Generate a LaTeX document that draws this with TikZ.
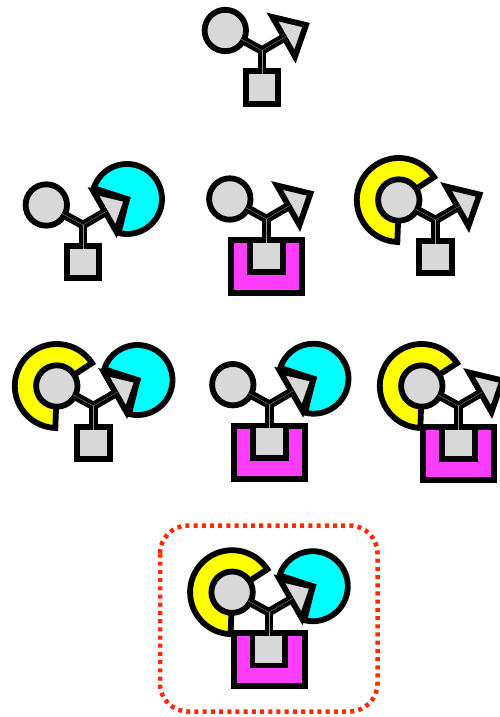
\documentclass[tikz,border=0pt]{standalone}
\usepackage{xcolor}
\usepackage{tikz}
\usetikzlibrary{positioning,calc}
\definecolor{core}{HTML}{D8D8D8}
\definecolor{pink}{HTML}{FF3DFF}
\definecolor{aqua}{HTML}{00FFFF}
\definecolor{sun}{HTML}{FFFF00}
\definecolor{frameRed}{HTML}{FF2A00}
\tikzset{
  part/.style={draw=black, line width=5.8pt, miter limit=10},
  headdot/.style={part, circle, fill=core, minimum size=41.4pt, inner sep=0pt, outer sep=-2.9pt},
  cargo/.style={part, rectangle, fill=core, minimum size=32.5pt, inner sep=0pt, outer sep=-2.9pt},
  legbar/.style={draw=black, line width=8.5pt},
  legline/.style={draw=core!70!black, line width=0.35pt},
  fragment/.pic={
    \coordinate (-hub) at (0,0);
    \coordinate (-barb) at (24,14);
    \node[headdot] (-head) at (-36.7,20) {};
    \node[cargo] (-box) at (0,-37) {};
    \draw[legbar] (-head) -- (-hub) -- (-barb);
    \draw[legbar] (-hub) -- (-box);
    \draw[part, fill=core] (10.5,33.5) -- (44,25.5) -- (33,-6) -- cycle;
    \draw[legline] (-head) -- (-hub) -- (-barb);
    \draw[legline] (-hub) -- (-box);
  },
  yellowarc/.pic={
    \draw[part, fill=sun] (-36.7,20) -- +(33:42) arc[start angle=33, end angle=268, radius=42] -- cycle;
  },
  cyanarc/.pic={
    \draw[part, fill=aqua] (44,26) -- +(256:35) arc[start angle=256, end angle=522, radius=35] -- cycle;
  },
  pinktray/.pic={
    \draw[part, fill=pink] (-35.2,-21) rectangle (35.8,-74);
  },
}
\begin{document}
\begin{tikzpicture}[x=1pt, y=1pt]
  \useasboundingbox (0,0) rectangle (500,-717);
  % top
  \pic (t) at (262,-50.5) {fragment};
  % second row
  \pic at (83,-225) {cyanarc};
  \pic (a) at (83,-225) {fragment};
  \pic at (266.5,-219) {pinktray};
  \pic (b) at (266.5,-219) {fragment};
  \pic at (435.5,-220) {yellowarc};
  \pic (c) at (435.5,-220) {fragment};
  % third row
  \pic at (93.5,-406) {yellowarc};
  \pic at (93.5,-406) {cyanarc};
  \pic (d) at (93.5,-406) {fragment};
  \pic at (269.5,-404.7) {cyanarc};
  \pic at (269.5,-404.7) {pinktray};
  \pic (e) at (269.5,-404.7) {fragment};
  \pic at (458.5,-406) {yellowarc};
  \pic at (458.5,-406) {pinktray};
  \pic (f) at (458.5,-406) {fragment};
  % all three
  \pic at (268.8,-612.2) {yellowarc};
  \pic at (268.8,-612.2) {cyanarc};
  \pic at (268.8,-612.2) {pinktray};
  \pic (g) at (268.8,-612.2) {fragment};
  \draw[frameRed, line width=4.5pt, dash pattern=on 4pt off 4.2pt, rounded corners=28pt] (160,-525.5) rectangle (377.5,-711.5);
\end{tikzpicture}
\end{document}
